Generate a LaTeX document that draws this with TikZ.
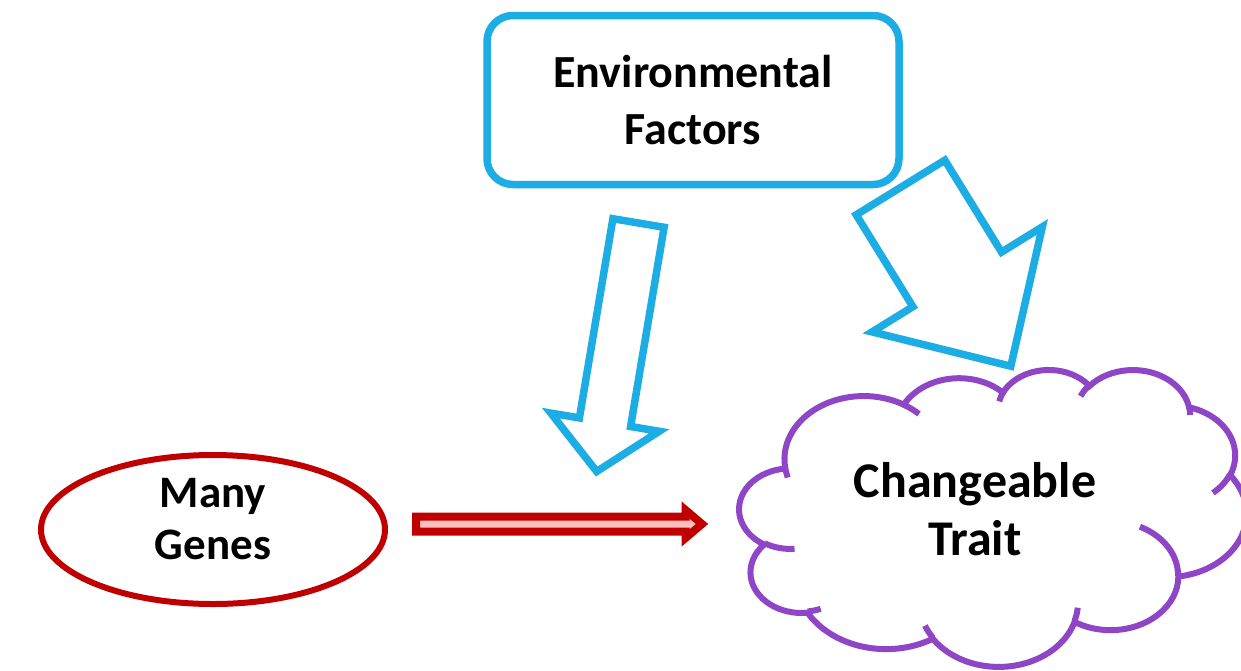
\documentclass[tikz,border=0pt]{standalone}
\usepackage{fontspec}
\setmainfont{Carlito}
\usetikzlibrary{shapes.geometric}
\definecolor{envblue}{RGB}{28,173,228}
\definecolor{genered}{RGB}{192,0,0}
\definecolor{pinkfill}{RGB}{255,190,190}
\definecolor{traitpurple}{RGB}{142,70,198}
\begin{document}
\begin{tikzpicture}[x=1pt,y=-1pt,
  envbox/.style={draw=envblue, line width=7.5pt, rounded corners=26pt,
    minimum width=412pt, minimum height=169pt, align=center, inner sep=0pt,
    font=\bfseries\fontsize{46}{57}\selectfont},
  genesshape/.style={ellipse, draw=genered, line width=6pt,
    minimum width=344pt, minimum height=149pt, inner sep=0pt},
  lbl/.style={align=center, inner sep=0pt},
  bluearrow/.style={draw=envblue, line width=7.5pt, fill=white, line join=miter},
  redarrow/.style={draw=genered, fill=pinkfill, line width=8pt, line join=miter},
  cloudline/.style={draw=traitpurple, line width=6pt}]
\fill[white] (0,0) rectangle (1241,670);
\useasboundingbox (0,0) rectangle (1241,670);

% Environmental factors box
\node[envbox] (env) at (693,100) {Environmental\\Factors};

% Many genes ellipse
\node[genesshape] (genes) at (213,529.5) {};
\node[lbl, font=\bfseries\fontsize{45}{52}\selectfont] (genestext) at (213,519) {Many\\Genes};

% Cloud (trait)
\draw[cloudline, fill=white] (785.2,467.7)
  arc[start angle=-187.746, end angle=-59.637, x radius=79.24, y radius=63.14]
  arc[start angle=-152.025, end angle=-45.43, x radius=62.58, y radius=49.92]
  arc[start angle=-153.48, end angle=-37.32, x radius=51.22, y radius=40.84]
  arc[start angle=-139.70, end angle=-10.21, x radius=56.99, y radius=45.31]
  arc[start angle=-74.77, end angle=23.21, x radius=62.58, y radius=49.97]
  arc[start angle=-37.55, end angle=81.86, x radius=79.50, y radius=63.34]
  arc[start angle=0.4596, end angle=121.98, x radius=67.88, y radius=54.05]
  arc[start angle=16.85, end angle=146.24, x radius=79.23, y radius=63.31]
  arc[start angle=58.98, end angle=150.19, x radius=90.59, y radius=72.43]
  arc[start angle=-276.69, end angle=-136.89, x radius=51.16, y radius=40.66]
  arc[start angle=-239.64, end angle=-95.89, x radius=50.98, y radius=40.84]
  -- cycle;
% inner hooks of the cloud
\draw[cloudline] (794.5,548.8) arc[start angle=85.55, end angle=120.36, x radius=50.98, y radius=40.84];
\draw[cloudline] (820.7,608.8) arc[start angle=68.24, end angle=83.31, x radius=51.16, y radius=40.66];
\draw[cloudline] (932.8,637.6) arc[start angle=146.24, end angle=158.47, x radius=79.23, y radius=63.31];
\draw[cloudline] (1077.7,607.7) arc[start angle=4.738, end angle=16.85, x radius=79.23, y radius=63.31];
\draw[cloudline] (1139.9,526.7) arc[start angle=-64.03, end angle=0.4596, x radius=67.88, y radius=54.05];
\draw[cloudline] (1229.9,474.5) arc[start angle=23.21, end angle=49.63, x radius=62.58, y radius=49.97];
\draw[cloudline] (1189.1,406.3) arc[start angle=-10.21, end angle=0.821, x radius=56.99, y radius=45.31];
\draw[cloudline] (1080.6,396.2) arc[start angle=-156.29, end angle=-139.70, x radius=56.99, y radius=45.31];
\draw[cloudline] (999.2,401.4) arc[start angle=-167.73, end angle=-153.48, x radius=51.22, y radius=40.84];
\draw[cloudline] (903.7,404.7) arc[start angle=-59.637, end angle=-45.74, x radius=79.24, y radius=63.14];
\draw[cloudline] (787.8,477.5) arc[start angle=163.19, end angle=172.254, x radius=79.24, y radius=63.14];
\node[lbl, font=\bfseries\fontsize{50}{58}\selectfont] (trait) at (975,509) {Changeable\\Trait};

% red double arrow from genes towards trait
\coordinate (redtail) at (416,524);
\coordinate (redtip) at (702,524);
\draw[redarrow] (redtail) ++(0,-7.5) -- (685.5,516.5) -- (685.5,510) -- (redtip)
  -- (685.5,538) -- (685.5,531.5) -- ([yshift=-7.5pt]redtail) -- cycle;

% blue block arrows from environmental factors
\draw[bluearrow] (612.9,218.7) -- (664.1,227.3) -- (630.6,426.5) -- (659.2,431.3)
  -- (596.7,471.5) -- (550.8,413.1) -- (579.4,417.9) -- cycle;
\draw[bluearrow] (856.2,214.8) -- (944.8,160.2) -- (1001.5,252.1) -- (1042.3,226.9)
  -- (1010.8,366.2) -- (872.1,331.9) -- (912.9,306.7) -- cycle;
\end{tikzpicture}
\end{document}
